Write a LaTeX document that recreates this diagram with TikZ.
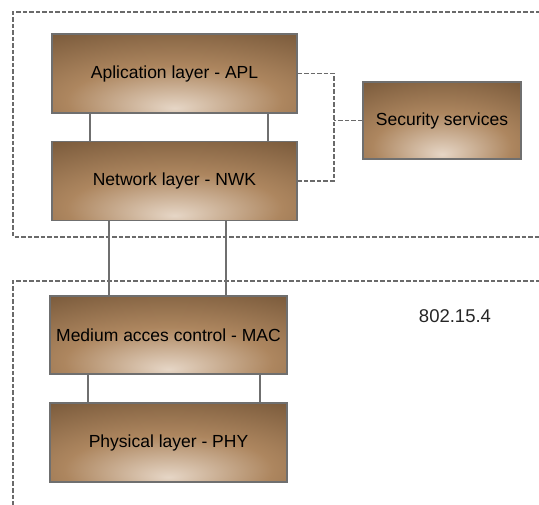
\documentclass[tikz,border=0pt]{standalone}
\usepackage{fontspec}
\setmainfont{Liberation Sans}
\definecolor{bdark}{HTML}{6E5033}
\definecolor{bmid}{HTML}{AD865F}
\definecolor{blight}{HTML}{E6D6C6}
\definecolor{linegray}{HTML}{6F6F6F}
\definecolor{dashgray}{HTML}{6A6A6A}
\pgfdeclareradialshading{boxshade}{\pgfpoint{0bp}{-22bp}}{%
  color(0bp)=(blight); color(22bp)=(bmid); color(45bp)=(bdark!80!bmid); color(70bp)=(bdark); color(100bp)=(bdark)}
\begin{document}
\begin{tikzpicture}[x=1pt,y=-1pt,
  layer/.style={draw=linegray, line width=1.3pt, shading=boxshade, rectangle, inner sep=0pt,
     font=\fontsize{17.5}{20}\selectfont, text=black},
  conn/.style={draw=linegray, line width=2pt},
  dashline/.style={draw=dashgray, line width=1.8pt, dash pattern=on 4.5pt off 2pt}]
\useasboundingbox (0,0) rectangle (539,505);
\begin{scope}
\clip (0,0) rectangle (539,505);
\draw[dashline] (560,12) -- (13,12) -- (13,237) -- (560,237);
\draw[dashline] (560,281) -- (13,281) -- (13,520);
\end{scope}
\node[layer, minimum width=245, minimum height=79] (apl) at (174.5,73.5) {Aplication layer - APL};
\node[layer, minimum width=245, minimum height=79] (nwk) at (174.5,181) {Network layer - NWK};
\node[layer, minimum width=158, minimum height=77] (sec) at (442,120.5) {Security services};
\node[layer, minimum width=237, minimum height=78] (mac) at (168.5,335) {Medium acces control - MAC};
\node[layer, minimum width=237, minimum height=79] (phy) at (168.5,442.5) {Physical layer - PHY};
\node[font=\fontsize{18.5}{20}\selectfont, text=black!85] (std) at (455,316) {802.15.4};
% solid connectors
\draw[conn] ([xshift=39pt]apl.south west) -- ([xshift=39pt]apl.south west |- nwk.north);
\draw[conn] ([xshift=-30pt]apl.south east) -- ([xshift=-30pt]apl.south east |- nwk.north);
\draw[conn] ([xshift=58pt]nwk.south west) -- ([xshift=58pt]nwk.south west |- mac.north);
\draw[conn] ([xshift=175pt]nwk.south west) -- ([xshift=175pt]nwk.south west |- mac.north);
\draw[conn] ([xshift=39pt]mac.south west) -- ([xshift=39pt]mac.south west |- phy.north);
\draw[conn] ([xshift=-28pt]mac.south east) -- ([xshift=-28pt]mac.south east |- phy.north);
% dashed connectors to security
\draw[dashline] (apl.east) -- ++(36,0) coordinate (j) |- (nwk.east);
\draw[dashline] (sec.west) -- (sec.west -| j);
\end{tikzpicture}
\end{document}
